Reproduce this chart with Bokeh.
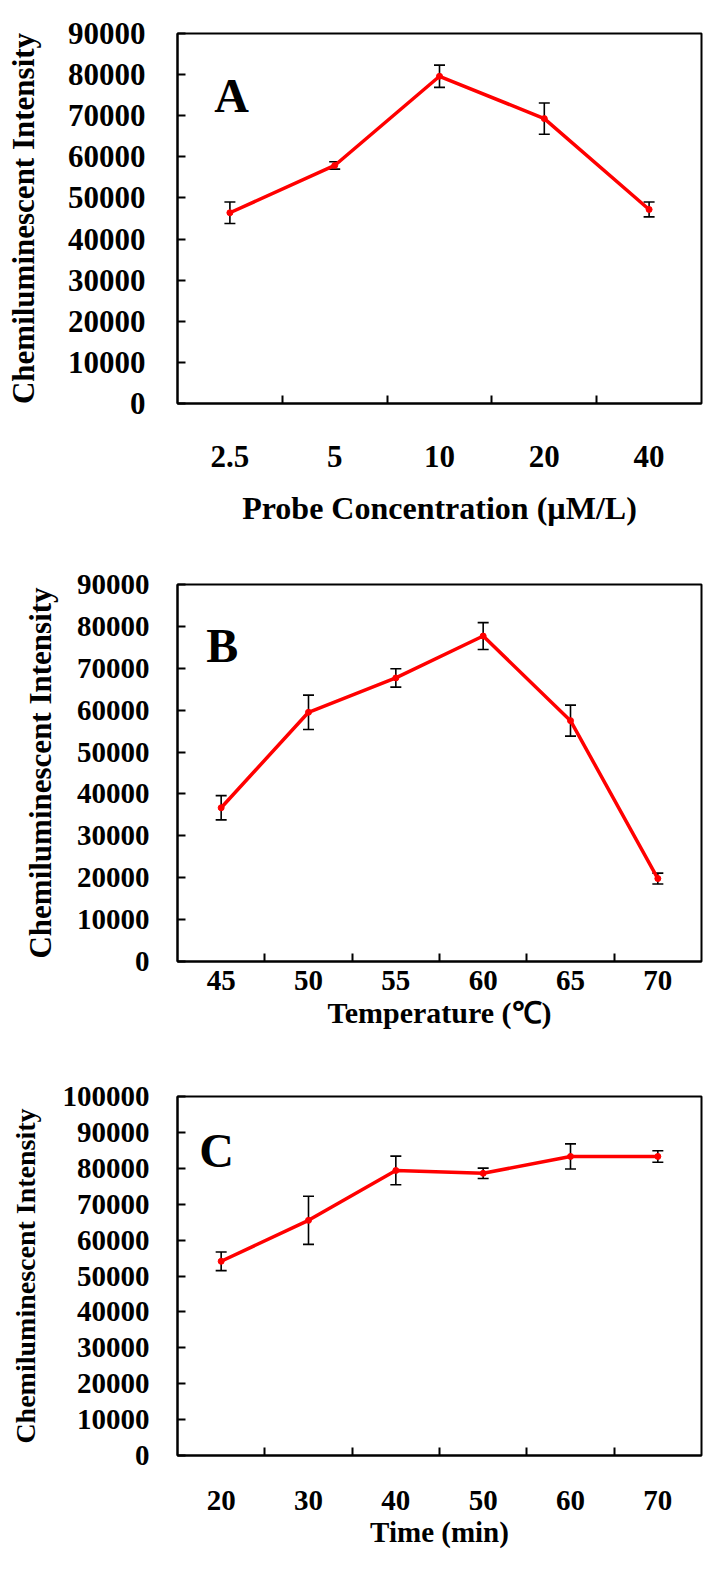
import numpy as np
from bokeh.plotting import figure
from bokeh.models import (ColumnDataSource, Range1d, FixedTicker, Whisker, TeeHead, Label)
from bokeh.layouts import column
from bokeh.embed import file_html
from bokeh.resources import INLINE

# ---------------- data ----------------
a_categories = ["2.5", "5", "10", "20", "40"]
a_values = [46400, 57900, 79600, 69300, 47200]
a_errors = [2600, 900, 2700, 3800, 1800]
a_yticks = [0, 10000, 20000, 30000, 40000, 50000, 60000, 70000, 80000, 90000]
a_ylabels = ["0", "10000", "20000", "30000", "40000", "50000", "60000", "70000", "80000", "90000"]

b_categories = ["45", "50", "55", "60", "65", "70"]
b_values = [36700, 59500, 67700, 77700, 57500, 19800]
b_errors = [2900, 4100, 2200, 3200, 3700, 1300]
b_yticks = [0, 10000, 20000, 30000, 40000, 50000, 60000, 70000, 80000, 90000]
b_ylabels = ["0", "10000", "20000", "30000", "40000", "50000", "60000", "70000", "80000", "90000"]

c_categories = ["20", "30", "40", "50", "60", "70"]
c_values = [54100, 65500, 79400, 78600, 83300, 83300]
c_errors = [2600, 6700, 4000, 1450, 3500, 1600]
c_yticks = [0, 10000, 20000, 30000, 40000, 50000, 60000, 70000, 80000, 90000, 100000]
c_ylabels = ["0", "10000", "20000", "30000", "40000", "50000", "60000", "70000", "80000", "90000", "100000"]

FONT = "Liberation Serif"


def make_panel(cats, vals, errs, yticks, ylabels, xlabel, letter, *,
               width, height, bl, br, bt, bb, tick_fs, ylabel_fs, xlabel_fs,
               xtick_standoff, xlabel_standoff, ytick_standoff, ylabel_standoff,
               letter_fs, letter_pos):
    n = len(cats)
    xs = [i + 0.5 for i in range(n)]
    src = ColumnDataSource(dict(
        x=xs, y=vals,
        upper=[v + e for v, e in zip(vals, errs)],
        lower=[v - e for v, e in zip(vals, errs)],
    ))
    p = figure(width=width, height=height, output_backend="svg", toolbar_location=None,
               x_range=Range1d(0, n), y_range=Range1d(yticks[0], yticks[-1]),
               min_border_left=bl, min_border_right=br, min_border_top=bt, min_border_bottom=bb)
    p.xgrid.visible = False
    p.ygrid.visible = False
    p.outline_line_color = "black"
    p.outline_line_width = 2
    p.outline_line_alpha = 1.0
    p.background_fill_color = "white"
    p.border_fill_color = "white"

    p.line("x", "y", source=src, line_color="#FF0000", line_width=3.5)
    p.scatter("x", "y", source=src, size=6, color="#FF0000")
    w = Whisker(source=src, base="x", upper="upper", lower="lower",
                line_color="black", line_width=1.6,
                upper_head=TeeHead(size=11, line_color="black", line_width=1.6),
                lower_head=TeeHead(size=11, line_color="black", line_width=1.6))
    p.add_layout(w)

    # x axis: labels at category centres, ticks between categories
    xa = p.xaxis[0]
    xa.ticker = FixedTicker(ticks=xs, minor_ticks=[i for i in range(1, n)])
    xa.major_label_overrides = {x: c for x, c in zip(xs, cats)}
    xa.major_tick_in = 0
    xa.major_tick_out = 0
    xa.minor_tick_in = 8
    xa.minor_tick_out = 0
    xa.minor_tick_line_width = 2
    xa.minor_tick_line_color = "black"
    xa.axis_line_width = 2
    xa.axis_line_color = "black"
    xa.major_label_text_font = FONT
    xa.major_label_text_font_style = "bold"
    xa.major_label_text_font_size = f"{tick_fs}px"
    xa.major_label_text_color = "black"
    xa.major_label_standoff = xtick_standoff
    xa.axis_label = xlabel
    xa.axis_label_text_font = FONT
    xa.axis_label_text_font_style = "bold"
    xa.axis_label_text_font_size = f"{xlabel_fs}px"
    xa.axis_label_text_color = "black"
    xa.axis_label_standoff = xlabel_standoff

    ya = p.yaxis[0]
    ya.ticker = FixedTicker(ticks=yticks, minor_ticks=[])
    ya.major_label_overrides = {t: l for t, l in zip(yticks, ylabels)}
    ya.major_tick_in = 8
    ya.major_tick_out = 0
    ya.major_tick_line_width = 2
    ya.major_tick_line_color = "black"
    ya.minor_tick_line_color = None
    ya.axis_line_width = 2
    ya.axis_line_color = "black"
    ya.major_label_text_font = FONT
    ya.major_label_text_font_style = "bold"
    ya.major_label_text_font_size = f"{tick_fs}px"
    ya.major_label_text_color = "black"
    ya.major_label_standoff = ytick_standoff
    ya.axis_label = "Chemiluminescent Intensity"
    ya.axis_label_text_font = FONT
    ya.axis_label_text_font_style = "bold"
    ya.axis_label_text_font_size = f"{ylabel_fs}px"
    ya.axis_label_text_color = "black"
    ya.axis_label_standoff = ylabel_standoff

    lx, ly = letter_pos
    p.add_layout(Label(x=lx, y=ly, text=letter, text_font=FONT, text_font_style="bold",
                       text_font_size=f"{letter_fs}px", text_color="black",
                       text_baseline="alphabetic"))
    return p


pA = make_panel(a_categories, a_values, a_errors, a_yticks, a_ylabels,
                "Probe Concentration (\u00b5M/L)", "A",
                width=720, height=537, bl=177, br=19, bt=33, bb=134,
                tick_fs=31, ylabel_fs=31, xlabel_fs=32,
                xtick_standoff=42, xlabel_standoff=20, ytick_standoff=32, ylabel_standoff=24,
                letter_fs=48, letter_pos=(0.35, 75000))

pB = make_panel(b_categories, b_values, b_errors, b_yticks, b_ylabels,
                "Temperature (\u2103)", "B",
                width=720, height=503, bl=159, br=18, bt=47, bb=79,
                tick_fs=29, ylabel_fs=31, xlabel_fs=30,
                xtick_standoff=9, xlabel_standoff=3, ytick_standoff=28, ylabel_standoff=16,
                letter_fs=48, letter_pos=(0.33, 75400))

pC = make_panel(c_categories, c_values, c_errors, c_yticks, c_ylabels,
                "Time (min)", "C",
                width=720, height=539, bl=172, br=16, bt=56, bb=124,
                tick_fs=29, ylabel_fs=28, xlabel_fs=29,
                xtick_standoff=35, xlabel_standoff=3, ytick_standoff=28, ylabel_standoff=19,
                letter_fs=48, letter_pos=(0.25, 85000))

layout = column(pA, pB, pC)
open("out.html", "w").write(file_html(layout, INLINE))
